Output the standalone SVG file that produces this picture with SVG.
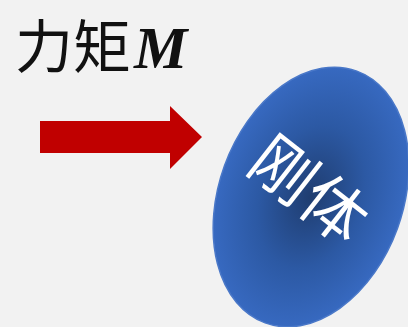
<svg xmlns="http://www.w3.org/2000/svg" width="408" height="327" viewBox="0 0 408 327">
<defs>
<radialGradient id="g" cx="0.5" cy="0.5" r="0.5">
<stop offset="0" stop-color="#1f3d70"/>
<stop offset="0.55" stop-color="#2c59a4"/>
<stop offset="1" stop-color="#3769c0"/>
</radialGradient>
<style>
.t{font-family:"Noto Sans CJK SC","Noto Sans",sans-serif;fill:#111}
</style>
</defs>
<rect width="408" height="327" fill="#f2f2f2"/>
<g id="title">
<text class="t" x="15" y="68" font-size="58">力矩<tspan font-family="Liberation Serif,serif" font-style="italic" font-weight="bold" font-size="60" dx="3">M</tspan></text>
</g>
<g id="connectors">
<polygon points="40,121 170,121 170,106 202,137 170,169 170,153 40,153" fill="#c00000"/>
</g>
<g id="body">
<ellipse cx="311" cy="197" rx="92" ry="134" transform="rotate(20 311 197)" fill="url(#g)" stroke="#4a78c8" stroke-width="1.5"/>
<text x="312" y="186" font-size="64" fill="#fff" text-anchor="middle" dominant-baseline="central" font-family="Noto Sans CJK SC,sans-serif" font-weight="400" transform="rotate(38 312 186)">刚体</text>
</g>
</svg>
